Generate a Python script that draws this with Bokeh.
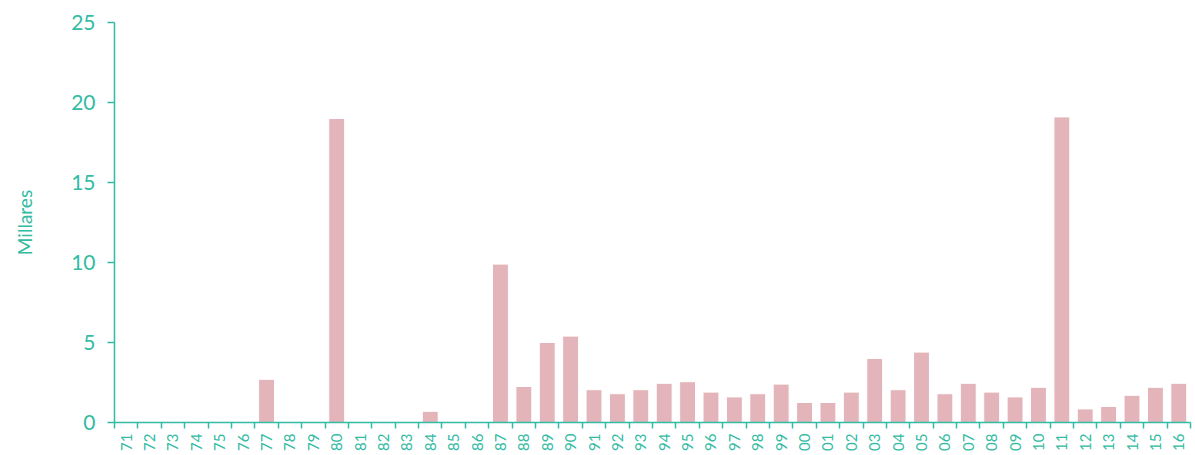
from bokeh.plotting import figure
from bokeh.models import FixedTicker, Range1d, ColumnDataSource
from bokeh.embed import file_html
from bokeh.resources import INLINE

years = ["71","72","73","74","75","76","77","78","79","80","81","82","83","84","85","86",
         "87","88","89","90","91","92","93","94","95","96","97","98","99",
         "00","01","02","03","04","05","06","07","08","09","10","11","12","13","14","15","16"]
values = [0,0,0,0,0,0,2.7,0,0,19.0,0,0,0,0.7,0,0,
          9.9,2.25,5.0,5.4,2.05,1.8,2.05,2.45,2.55,1.9,1.6,1.8,2.4,
          1.25,1.25,1.9,4.0,2.05,4.4,1.8,2.45,1.9,1.6,2.2,19.1,0.85,1.0,1.7,2.2,2.45]
y_ticks = [0, 5, 10, 15, 20, 25]

teal = "#33BBA3"
bar_color = "#E3B5BB"

n = len(years)
centers = [i + 0.5 for i in range(n)]
bounds = list(range(n + 1))

src = ColumnDataSource(dict(x=centers, top=values))

p = figure(width=1193, height=453, output_backend="svg", toolbar_location=None,
           x_range=Range1d(0, n), y_range=Range1d(0, 25),
           min_border_left=114, min_border_right=3, min_border_top=22, min_border_bottom=0)
p.outline_line_color = None
p.grid.grid_line_color = None
p.background_fill_color = "white"

p.vbar(x="x", top="top", width=0.68, source=src, fill_color=bar_color,
       line_color="white", line_width=1)

xt = FixedTicker(ticks=centers, minor_ticks=bounds)
p.xaxis.ticker = xt
p.xaxis.major_label_overrides = {c: y for c, y in zip(centers, years)}
p.xaxis.major_tick_line_color = None
p.xaxis.minor_tick_line_color = teal
p.xaxis.minor_tick_in = 0
p.xaxis.minor_tick_out = 6
p.xaxis.minor_tick_line_width = 1.5
p.xaxis.axis_line_color = teal
p.xaxis.axis_line_width = 1.5
p.xaxis.major_label_orientation = 1.5708
p.xaxis.major_label_text_color = teal
p.xaxis.major_label_text_font = "Lato"
p.xaxis.major_label_text_font_size = "15px"
p.xaxis.major_label_standoff = 5

p.yaxis.ticker = FixedTicker(ticks=y_ticks, minor_ticks=[])
p.yaxis.axis_line_color = teal
p.yaxis.axis_line_width = 1.5
p.yaxis.major_tick_line_color = teal
p.yaxis.major_tick_in = 0
p.yaxis.major_tick_out = 7
p.yaxis.major_tick_line_width = 1.5
p.yaxis.minor_tick_line_color = None
p.yaxis.major_label_text_color = teal
p.yaxis.major_label_text_font = "Lato"
p.yaxis.major_label_text_font_size = "21px"
p.yaxis.major_label_standoff = 12
p.yaxis.axis_label = "Millares"
p.yaxis.axis_label_text_color = teal
p.yaxis.axis_label_text_font = "Lato"
p.yaxis.axis_label_text_font_size = "19px"
p.yaxis.axis_label_text_font_style = "normal"
p.yaxis.axis_label_standoff = 32

open("out.html", "w").write(file_html(p, INLINE))
